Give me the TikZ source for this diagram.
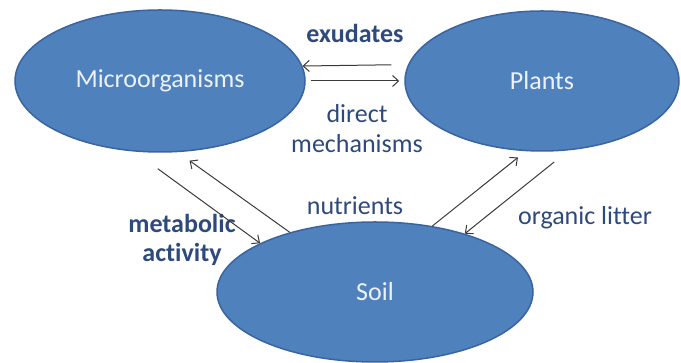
\documentclass[tikz,border=0pt]{standalone}
\usepackage{fontspec}
\setmainfont{Carlito}[Ligatures=NoCommon]
\usepackage{tikz}
\usetikzlibrary{positioning,arrows.meta,shapes.geometric}
\definecolor{blob}{HTML}{4F81BD}
\definecolor{blobline}{HTML}{3A64A0}
\definecolor{blobtext}{HTML}{EEF2F8}
\definecolor{labelink}{HTML}{2E4A7C}
\definecolor{arrowink}{HTML}{3A3A3A}

\begin{document}
\begin{tikzpicture}[x=1pt,y=1pt,
  blobnode/.style={ellipse,draw=blobline,line width=1.5pt,fill=blob,text=blobtext,inner sep=0pt,font=\fontsize{26}{30}\selectfont},
  lbl/.style={text=labelink,inner sep=0pt,align=center,font=\fontsize{26}{30}\selectfont},
  arr/.style={-{Straight Barb[length=6pt,width=11pt]},line width=1pt,draw=arrowink}]
\useasboundingbox (0,0) rectangle (681,363);
\node[blobnode,minimum width=290,minimum height=142] (micro) at (160,282) {Microorganisms};
\node[blobnode,minimum width=274,minimum height=140] (plants) at (542,282) {Plants};
\node[blobnode,minimum width=316,minimum height=140] (soil) at (375,71) {Soil};
\node[lbl,anchor=base,font=\fontsize{26}{30}\selectfont\bfseries] (exudates) at (355,320) {exudates};
\node[lbl,anchor=base] (direct) at (357,210) {direct\\mechanisms};
\node[lbl,anchor=base,font=\fontsize{26}{29}\selectfont\bfseries] (metabolic) at (182,101) {metabolic\\activity};
\node[lbl,anchor=base] (nutrients) at (355,148) {nutrients};
\node[lbl,anchor=base] (litter) at (585,138) {organic litter};
\draw[arr,shorten <=16.6pt] (plants.173.2)--(micro.6.5);
\draw[arr,shorten <=5pt,shorten >=5pt] (micro.-0.8)--(plants.180.8);
\draw[arr,shorten <=29pt] (micro.250)--(soil.157);
\draw[arr,shorten >=14.5pt] (soil.145.5)--(micro.284.6);
\draw[arr,shorten >=10pt] (soil.49.3)--(plants.257.1);
\draw[arr,shorten <=18.5pt] (plants.291.9)--(soil.33.2);
\end{tikzpicture}
\end{document}
